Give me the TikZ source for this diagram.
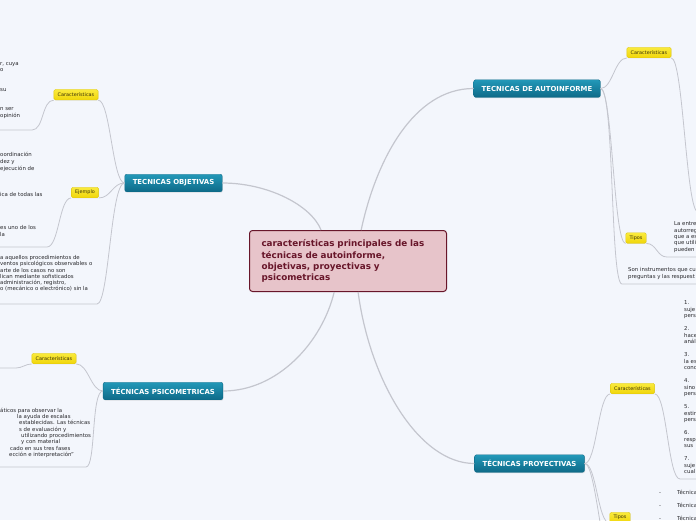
\documentclass[tikz,border=0pt]{standalone}
\usepackage{fontspec}
\setmainfont{DejaVu Sans}
\usepackage{xcolor}
\usepackage{tikz}
\usetikzlibrary{shadows}
\definecolor{mapbg}{RGB}{243, 246, 252}
\definecolor{linkgray}{RGB}{196, 198, 206}
\definecolor{topictop}{RGB}{34, 152, 184}
\definecolor{topicbot}{RGB}{14, 106, 136}
\definecolor{tagtop}{RGB}{250, 234, 60}
\definecolor{tagbot}{RGB}{240, 214, 10}
\definecolor{tagedge}{RGB}{222, 200, 16}
\definecolor{tagink}{RGB}{60, 52, 10}
\definecolor{rootfill}{RGB}{231, 196, 202}
\definecolor{rootdraw}{RGB}{104, 22, 42}
\definecolor{inkgray}{RGB}{40, 40, 44}

\begin{document}
\begin{tikzpicture}[x=1pt, y=-1pt,
				rootbox/.style={rectangle, draw=rootdraw, fill=rootfill, line width=1pt, rounded corners=3pt, minimum width=197pt, minimum height=61pt, text width=173pt, inner xsep=12pt, align=left, text=rootdraw, font=\fontsize{8.8}{11.2}\selectfont\bfseries},
				topicbox/.style={rectangle, top color=topictop, bottom color=topicbot, draw=topicbot, line width=0.4pt, rounded corners=2pt, minimum height=17.5pt, inner xsep=8pt, text=white, font=\fontsize{6.9}{7.5}\selectfont\bfseries, drop shadow={opacity=0.22, shadow xshift=0.6pt, shadow yshift=-0.9pt}},
				tagbox/.style={rectangle, top color=tagtop, bottom color=tagbot, draw=tagedge, line width=0.4pt, rounded corners=1.5pt, minimum height=10.5pt, inner xsep=3.8pt, inner ysep=0pt, text=tagink, font=\fontsize{4.9}{5.4}\selectfont, drop shadow={opacity=0.15, shadow xshift=0.4pt, shadow yshift=-0.6pt}},
				note/.style={anchor=north west, inner sep=0pt, align=left, text=inkgray, font=\fontsize{5.4}{6.4}\selectfont},
				trunk/.style={draw=linkgray, line width=1.2pt},
				twig/.style={draw=linkgray, line width=0.8pt}
				]
				\useasboundingbox (0,0) rectangle (696,520);
				\fill[mapbg] (0,0) rectangle (696,520);
				\begin{scope}
				\clip (0,0) rectangle (696,520);
				
				% Root
				\node[rootbox] (root) at (348, 261) {caracter\'isticas principales de las\\t\'ecnicas de autoinforme,\\objetivas, proyectivas y\\psicometricas};
				
				% Topics
				\node[topicbox] (obj) at (173.5, 183) {TECNICAS OBJETIVAS};
				\node[topicbox] (psico) at (163, 391) {T\'ECNICAS PSICOMETRICAS};
				\node[topicbox] (auto) at (537, 88.5) {TECNICAS DE AUTOINFORME};
				\node[topicbox] (proy) at (529.5, 463.5) {T\'ECNICAS PROYECTIVAS};
				
				% Tags
				\node[tagbox] (objcar) at (76, 94.7) {Caracter\'isticas};
				\node[tagbox] (objej) at (85, 192.5) {Ejemplo};
				\node[tagbox] (psicar) at (54, 358.5) {Caracter\'isticas};
				\node[tagbox] (autcar) at (649, 52.5) {Caracter\'isticas};
				\node[tagbox] (auttip) at (636, 238) {Tipos};
				\node[tagbox] (proycar) at (632.5, 388.5) {Caracter\'isticas};
				\node[tagbox] (proytip) at (620, 517.5) {Tipos};
				
				% Notes (cut by the frame)
				\node[note, font=\fontsize{5.4}{6.5}\selectfont] (objnote1) at (0, 61.8) {r, cuya\\o\\[13pt]su\\[13pt]n ser\\opini\'on};
				\node[note, font=\fontsize{5.4}{6.6}\selectfont] (objnote2) at (0, 152.4) {oordinaci\'on\\dez y\\ejecuci\'on de\\[19.8pt]ica de todas las\\[26.4pt]es uno de los\\la};
				\node[note, font=\fontsize{5.4}{6.2}\selectfont] (objnote3) at (0, 255.3) {a aquellos procedimientos de\\ventos psicol\'ogicos observables o\\arte de los casos no son\\lican mediante sofisticados\\administraci\'on, registro,\\o (mec\'anico o electr\'onico) sin la};
				\node[note, font=\fontsize{5.4}{6.3}\selectfont] (psinote) at (0, 407.8) {\'aticos para observar la\\\hspace*{17pt}la ayuda de escalas\\\hspace*{19pt}establecidas. Las t\'ecnicas\\\hspace*{19pt}s de evaluaci\'on y\\\hspace*{21pt}utilizando procedimientos\\\hspace*{21pt}y con material\\\hspace*{10pt}cado en sus tres fases\\\hspace*{9pt}ecci\'on e interpretaci\'on''};
				\node[note, font=\fontsize{5.4}{6.3}\selectfont] (autnote1) at (674, 221.8) {La entre\\autorreg\\que a es\\que utili\\pueden};
				\node[note, font=\fontsize{5.4}{6.5}\selectfont] (autnote2) at (628, 267.3) {Son instrumentos que cu\\preguntas y las respuest};
				\node[note, font=\fontsize{5.4}{6.5}\selectfont] (proynote1) at (684, 300.8) {1.\\suje\\pers\\[6.5pt]2.\\hace\\an\'al\\[6.5pt]3.\\la es\\conc\\[6.5pt]4.\\sino\\pers\\[6.5pt]5.\\estir\\pers\\[6.5pt]6.\\resp\\sus\\[6.5pt]7.\\suje\\cual};
				\node[note, font=\fontsize{5.4}{12.8}\selectfont] (proynote2) at (659, 490.1) {\makebox[18pt][l]{-}T\'ecnica\\\makebox[18pt][l]{-}T\'ecnica\\\makebox[18pt][l]{-}T\'ecnica};
				
				% Underline ends
				\coordinate (ou1) at (32, 130);  \coordinate (ou1x) at (0, 130);
				\coordinate (ou2) at (47, 247);  \coordinate (ou2x) at (0, 247);
				\coordinate (ou3) at (97, 304);  \coordinate (ou3x) at (0, 304);
				\coordinate (pu1) at (16, 368);  \coordinate (pu1x) at (0, 368);
				\coordinate (pu2) at (86, 467);  \coordinate (pu2x) at (0, 467);
				\coordinate (au1) at (698, 212);
				\coordinate (au2) at (667, 257); \coordinate (au2x) at (700, 257);
				\coordinate (au3) at (622, 284); \coordinate (au3x) at (700, 284);
				\coordinate (yu1) at (680, 479); \coordinate (yu1x) at (700, 479);
				\coordinate (yu3) at (616, 575);
				
				% Root to topics
				\draw[trunk] (root.131) .. controls +(-10,-25) and +(45,0) .. (obj.east);
				\draw[trunk] (root.67) .. controls +(15,-70) and +(-60,0) .. (auto.west);
				\draw[trunk] (root.246) .. controls +(-12,50) and +(55,0) .. (psico.east);
				\draw[trunk] (root.288) .. controls +(12,90) and +(-55,0) .. (proy.west);
				
				% Objetivas
				\draw[twig] (obj.west) .. controls +(-12,0) and +(12,0) .. (objcar.south east);
				\draw[twig] (obj.west) .. controls +(-12,0) and +(12,0) .. (objej.south east);
				\draw[twig] (obj.west) .. controls +(-14,0) and +(12,0) .. (ou3) -- (ou3x);
				\draw[twig] (objcar.south west) .. controls +(-12,0) and +(12,0) .. (ou1) -- (ou1x);
				\draw[twig] (objej.south west) .. controls +(-12,0) and +(12,0) .. (ou2) -- (ou2x);
				
				% Psicometricas
				\draw[twig] (psico.west) .. controls +(-12,0) and +(12,0) .. (psicar.south east);
				\draw[twig] (psico.west) .. controls +(-12,0) and +(10,0) .. (pu2) -- (pu2x);
				\draw[twig] (psicar.south west) .. controls +(-6,0) and +(6,0) .. (pu1) -- (pu1x);
				
				% Autoinforme
				\draw[twig] (auto.east) .. controls +(12,0) and +(-12,0) .. (autcar.south west);
				\draw[twig] (auto.east) .. controls +(12,0) and +(-12,0) .. (auttip.south west);
				\draw[twig] (auto.east) .. controls +(14,0) and +(-12,0) .. (au3) -- (au3x);
				\draw[twig] (autcar.south east) .. controls +(12,0) and +(-12,0) .. (au1);
				\draw[twig] (auttip.south east) .. controls +(10,0) and +(-10,0) .. (au2) -- (au2x);
				
				% Proyectivas
				\draw[twig] (proy.east) .. controls +(12,0) and +(-12,0) .. (proycar.south west);
				\draw[twig] (proy.east) .. controls +(12,0) and +(-12,0) .. (proytip.south west);
				\draw[twig] (proy.east) .. controls +(12,0) and +(-14,0) .. (yu3);
				\draw[twig] (proycar.south east) .. controls +(12,0) and +(-12,0) .. (yu1) -- (yu1x);
				\end{scope}
			\end{tikzpicture}
\end{document}
